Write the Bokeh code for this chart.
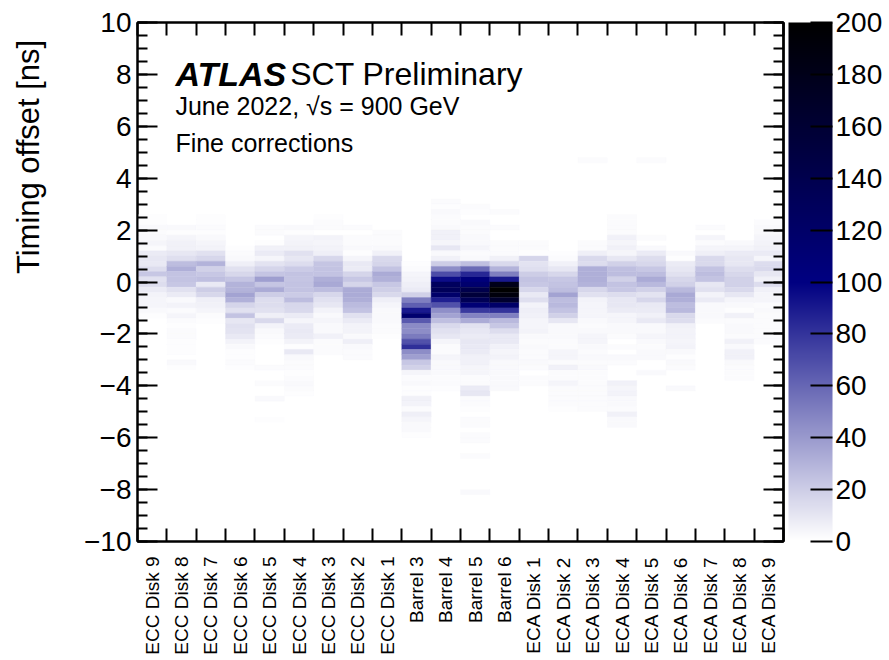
import math
from bokeh.plotting import figure
from bokeh.layouts import row
from bokeh.models import (Range1d, FixedTicker, LinearAxis, Label, ColorBar,
                          LinearColorMapper, ColumnDataSource)
from bokeh.embed import file_html
from bokeh.resources import INLINE

FONT = "Liberation Sans"

# ---------------- data ----------------
categories = ["ECC Disk 9", "ECC Disk 8", "ECC Disk 7", "ECC Disk 6", "ECC Disk 5",
              "ECC Disk 4", "ECC Disk 3", "ECC Disk 2", "ECC Disk 1",
              "Barrel 3", "Barrel 4", "Barrel 5", "Barrel 6",
              "ECA Disk 1", "ECA Disk 2", "ECA Disk 3", "ECA Disk 4", "ECA Disk 5",
              "ECA Disk 6", "ECA Disk 7", "ECA Disk 8", "ECA Disk 9"]

# counts per 0.2 ns bin, from +3.4 ns (top) down to -6.0 ns
bin_top = 3.4
bin_width = 0.2

ecc_disk9 = [0,0,0,0,1,1,3,2,3,4, 2,8,10,9,14,22,12,14,8,5, 4,4,3,1,0,0,0,0,0,0, 0,0,0,0,0,0,0,0,0,0, 0,0,0,0,0,0,0]
ecc_disk8 = [0,0,0,0,0,0,3,1,4,6, 6,10,13,26,32,24,24,22,12,8, 3,5,2,4,2,1,2,2,1,1, 1,0,3,1,0,0,0,0,0,0, 0,0,0,0,0,0,0]
ecc_disk7 = [0,0,0,0,1,1,2,1,3,4, 5,12,16,30,18,22,25,9,20,16, 7,6,4,2,1,0,0,0,0,0, 0,0,0,0,0,0,0,0,0,0, 0,0,0,0,0,0,0]
ecc_disk6 = [0,0,0,0,0,0,0,0,0,0, 1,2,3,7,12,16,23,30,30,36, 31,17,12,24,10,12,11,9,5,3, 1,1,2,1,0,0,0,0,0,0, 0,0,0,0,0,0,0]
ecc_disk5 = [0,0,0,0,0,0,2,2,0,1, 6,8,4,11,17,23,38,23,33,20, 14,14,12,7,15,5,3,2,1,0, 0,0,0,2,0,0,2,0,0,3, 0,0,0,1,0,0,0]
ecc_disk4 = [0,0,0,0,0,0,3,1,4,5, 6,12,10,14,21,24,23,24,24,21, 26,16,15,8,4,8,9,8,5,1, 9,3,2,2,1,2,3,2,1,0, 0,0,0,0,0,0,0]
ecc_disk3 = [0,0,0,0,1,2,2,0,5,4, 5,7,16,23,24,24,32,34,26,16, 12,10,5,3,4,3,3,6,2,2, 2,0,0,0,0,0,0,0,0,0, 0,0,0,0,0,0,0]
ecc_disk2 = [0,0,0,0,0,0,2,0,2,2, 3,1,4,9,8,17,22,17,33,33, 32,27,24,12,8,5,5,3,7,3, 2,2,0,0,0,0,0,0,0,0, 0,0,0,0,0,0,0]
ecc_disk1 = [0,0,0,0,0,0,0,2,2,2, 3,6,15,17,24,33,31,22,19,15, 7,4,3,3,3,2,2,1,0,0, 0,0,0,0,0,0,0,0,0,0, 0,0,0,0,0,0,0]
barrel3 = [0,0,0,0,0,0,0,0,0,0, 0,0,0,1,2,4,5,7,8,18, 50,63,90,115,65,46,45,52,68,82, 45,38,22,18,4,2,3,1,1,6, 5,2,7,4,3,3,1]
barrel4 = [0,2,1,3,2,2,3,6,6,4, 10,3,6,20,45,70,95,128,132,118, 88,68,44,36,25,15,12,10,4,2, 2,4,3,3,3,2,2,1,0,0, 0,0,0,0,0,0,0]
barrel5 = [0,0,2,1,0,3,2,2,3,3, 4,2,3,25,58,85,105,115,140,155, 135,110,78,49,33,12,10,8,10,9, 8,6,6,4,4,2,2,8,10,2, 2,1,0,2,2,0,2]
barrel6 = [0,0,0,2,0,0,2,0,0,2, 2,2,6,15,30,50,90,180,200,190, 165,120,80,50,28,22,14,9,9,6, 4,5,3,3,3,3,3,3,0,0, 0,0,0,0,0,0,0]
eca_disk1 = [0,0,0,0,0,0,0,0,0,2, 2,1,17,11,13,20,24,22,16,9, 13,5,7,6,4,4,5,3,2,3, 2,2,3,2,0,2,2,0,0,0, 0,0,0,0,0,0,0]
eca_disk2 = [0,0,0,0,0,0,0,0,0,0, 0,1,2,6,10,16,22,24,26,36, 26,28,24,18,10,3,3,3,2,2, 4,4,2,6,2,2,4,2,2,2, 2,1,0,0,0,0,0]
eca_disk3 = [0,0,0,0,0,0,0,0,0,2, 2,7,15,14,32,32,32,30,16,12, 5,4,4,4,3,2,3,4,4,3, 2,3,2,3,2,2,2,2,2,2, 2,2,0,0,0,0,0]
eca_disk4 = [0,0,0,0,2,2,2,2,6,4, 6,4,10,18,25,26,18,24,22,14, 10,10,8,4,4,3,3,2,0,2, 0,3,2,0,0,0,6,4,5,3, 3,2,6,3,3,0,0]
eca_disk5 = [0,0,0,0,0,0,0,0,2,0, 3,8,14,16,22,26,33,28,18,11, 16,9,8,6,9,3,3,4,3,2, 3,3,0,0,3,0,0,0,0,0, 0,0,0,0,0,0,0]
eca_disk6 = [0,0,0,0,0,0,0,0,0,0, 0,3,1,8,10,12,16,18,28,34, 32,26,28,15,14,6,5,5,4,5, 3,1,3,2,0,0,0,3,0,0, 0,0,0,0,0,0,0]
eca_disk7 = [0,0,0,0,0,0,2,0,4,2, 4,7,15,15,24,26,24,10,12,5, 8,3,3,3,2,0,0,0,0,0, 0,0,0,0,0,0,0,0,0,0, 0,0,0,0,0,0,0]
eca_disk8 = [0,0,0,0,0,0,0,0,0,3, 4,8,10,10,14,16,18,18,15,10, 4,3,1,6,2,3,3,2,6,3, 6,6,3,2,2,2,0,0,0,0, 0,0,0,0,0,0,0]
eca_disk9 = [0,0,0,0,0,2,3,3,4,5, 6,8,4,14,15,10,6,14,6,4, 4,2,3,2,2,2,2,2,2,0, 0,0,0,0,0,0,0,0,0,0, 0,0,0,0,0,0,0]

columns = [ecc_disk9, ecc_disk8, ecc_disk7, ecc_disk6, ecc_disk5, ecc_disk4,
           ecc_disk3, ecc_disk2, ecc_disk1, barrel3, barrel4, barrel5, barrel6,
           eca_disk1, eca_disk2, eca_disk3, eca_disk4, eca_disk5, eca_disk6,
           eca_disk7, eca_disk8, eca_disk9]

# isolated entries outside the main window (category, bin centre [ns], count)
outlier_cat = ["Barrel 5", "Barrel 5", "Barrel 5", "ECA Disk 3", "ECA Disk 5"]
outlier_y = [-6.1, -6.7, -8.1, 4.7, 4.7]
outlier_n = [2, 2, 3, 2, 2]

y_ticks = [-10, -8, -6, -4, -2, 0, 2, 4, 6, 8, 10]
z_ticks = [0, 20, 40, 60, 80, 100, 120, 140, 160, 180, 200]
z_max = 200

# ---------------- build cells ----------------
left, right, bottom, top, count = [], [], [], [], []
for i, col in enumerate(columns):
    for k, n in enumerate(col):
        if n > 0:
            t = bin_top - k * bin_width
            left.append(i); right.append(i + 1)
            top.append(t); bottom.append(t - bin_width)
            count.append(n)
for c, yc, n in zip(outlier_cat, outlier_y, outlier_n):
    i = categories.index(c)
    left.append(i); right.append(i + 1)
    top.append(yc + bin_width / 2); bottom.append(yc - bin_width / 2)
    count.append(n)

src = ColumnDataSource(dict(left=left, right=right, top=top, bottom=bottom, count=count))

# white -> navy -> black palette
palette = []
for j in range(256):
    t = j / 255 * 2
    if t <= 1:
        r = g = 255 * (1 - t)
        b = 255 - (255 - 130) * t
    else:
        s = t - 1
        r = g = 0
        b = 130 * (1 - s)
    palette.append("#%02x%02x%02x" % (int(round(r)), int(round(g)), int(round(b))))
mapper = LinearColorMapper(palette=palette, low=0, high=z_max)

# ---------------- layout sizes ----------------
W, H = 889, 660
TITLE_W = 60          # strip holding the y-axis title
FRAME_LEFT = 137

# ---------------- y-title strip ----------------
tfig = figure(width=TITLE_W, height=H, x_range=Range1d(0, TITLE_W), y_range=Range1d(0, H),
              output_backend="svg", toolbar_location=None,
              x_axis_location=None, y_axis_location=None, min_border=0,
              outline_line_color=None, background_fill_color="white",
              border_fill_color="white")
tfig.xgrid.visible = False
tfig.ygrid.visible = False
tfig.add_layout(Label(x=28, y=H - 22, text="Timing offset [ns]", text_font=FONT,
                      text_font_size="31px", text_color="black", angle=math.pi / 2,
                      text_align="right", text_baseline="middle"))

# ---------------- main figure ----------------
n_cat = len(categories)
p = figure(width=W - TITLE_W, height=H, x_range=Range1d(0, n_cat), y_range=Range1d(-10, 10),
           output_backend="svg", toolbar_location=None,
           min_border_left=FRAME_LEFT - TITLE_W, min_border_right=106,
           min_border_top=22, min_border_bottom=119,
           background_fill_color="white", border_fill_color="white")
p.xgrid.visible = False
p.ygrid.visible = False
p.outline_line_color = "black"
p.outline_line_width = 2

p.quad(left="left", right="right", top="top", bottom="bottom", source=src,
       fill_color={"field": "count", "transform": mapper},
       line_color={"field": "count", "transform": mapper}, line_width=0.4)

minus = lambda v: ("\u2212" + str(abs(v))) if v < 0 else str(v)
y_minor = [-10 + 0.5 * j for j in range(41)]

# left axis with labels
ly = p.yaxis[0]
ly.ticker = FixedTicker(ticks=y_ticks, minor_ticks=y_minor)
ly.major_tick_in = 20
ly.major_tick_out = 0
ly.minor_tick_in = 10
ly.minor_tick_out = 0
ly.axis_line_width = 2
ly.major_tick_line_width = 2
ly.minor_tick_line_width = 2
ly.major_label_overrides = {v: minus(v) for v in y_ticks}
ly.major_label_text_font = FONT
ly.major_label_text_font_size = "28px"
ly.major_label_text_color = "black"
ly.major_label_standoff = 6

# right axis: tick marks only (no labels)
ry1 = LinearAxis(ticker=FixedTicker(ticks=[], minor_ticks=y_minor),
                 minor_tick_in=10, minor_tick_out=0, minor_tick_line_width=2,
                 axis_line_width=2, major_label_standoff=0)
p.add_layout(ry1, "right")
ry2 = LinearAxis(ticker=FixedTicker(ticks=[], minor_ticks=y_ticks),
                 minor_tick_in=20, minor_tick_out=0, minor_tick_line_width=2,
                 axis_line_width=2, major_label_standoff=0)
p.add_layout(ry2, "right")

centers = [i + 0.5 for i in range(n_cat)]
bounds = list(range(n_cat + 1))
bx = p.xaxis[0]
bx.ticker = FixedTicker(ticks=centers, minor_ticks=bounds)
bx.major_label_overrides = {c: name for c, name in zip(centers, categories)}
bx.major_label_orientation = math.pi / 2
bx.major_label_text_font = FONT
bx.major_label_text_font_size = "19px"
bx.major_label_text_color = "black"
bx.major_label_standoff = 15
bx.major_tick_in = 0
bx.major_tick_out = 0
bx.minor_tick_in = 13
bx.minor_tick_out = 0
bx.minor_tick_line_width = 2
bx.axis_line_width = 2

tx = LinearAxis(ticker=FixedTicker(ticks=[], minor_ticks=bounds),
                minor_tick_in=13, minor_tick_out=0, minor_tick_line_width=2,
                axis_line_width=2, major_label_standoff=0)
p.add_layout(tx, "above")

cb = ColorBar(color_mapper=mapper, width=44, height=519, padding=0, margin=0,
              location=(5, 0), ticker=FixedTicker(ticks=z_ticks),
              major_label_text_font=FONT, major_label_text_font_size="28px",
              major_label_text_color="black", label_standoff=3,
              major_tick_in=22, major_tick_out=0, major_tick_line_color="black",
              major_tick_line_width=2, minor_tick_line_color=None,
              bar_line_color=None, border_line_color=None, background_fill_alpha=0)
p.add_layout(cb, "right")

# ---------------- texts ----------------
p.add_layout(Label(x=1.29, y=8.0, text="ATLAS", text_font=FONT, text_font_style="bold italic",
                   text_font_size="34px", text_color="black", text_baseline="alphabetic"))
p.add_layout(Label(x=5.2, y=8.0, text="SCT Preliminary", text_font=FONT,
                   text_font_size="32px", text_color="black", text_baseline="alphabetic"))
p.add_layout(Label(x=1.29, y=6.77, text="June 2022, \u221as =  900 GeV", text_font=FONT,
                   text_font_size="25px", text_color="black", text_baseline="alphabetic"))
p.add_layout(Label(x=1.29, y=5.37, text="Fine corrections", text_font=FONT,
                   text_font_size="25px", text_color="black", text_baseline="alphabetic"))

layout = row(tfig, p, spacing=0)
open("out.html", "w").write(file_html(layout, INLINE))
